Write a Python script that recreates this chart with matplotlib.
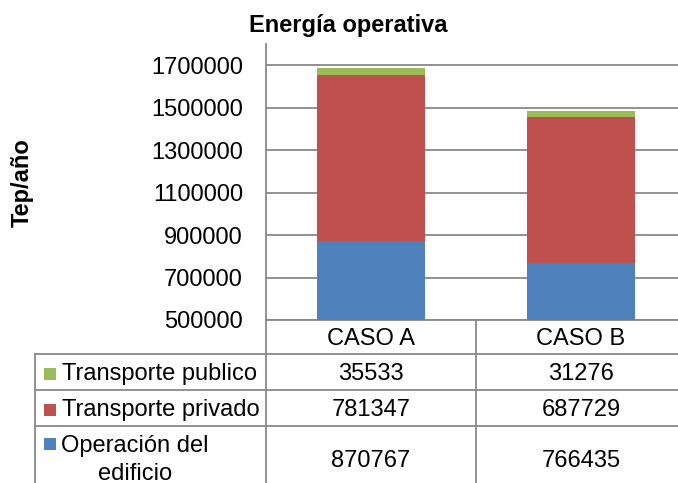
import matplotlib.pyplot as plt
from matplotlib.patches import Rectangle

plt.rcParams["font.family"] = ["Liberation Sans", "DejaVu Sans"]

# -----------------------------
# Data
# -----------------------------
categories = ["CASO A", "CASO B"]
series_names = ["Operación del\nedificio", "Transporte privado", "Transporte publico"]
operacion = [870767, 766435]
privado = [781347, 687729]
publico = [35533, 31276]
colors = ["#4F81BD", "#C0504D", "#9BBB59"]
y_ticks = [500000, 700000, 900000, 1100000, 1300000, 1500000, 1700000]

line_col = "#898989"
fs = 17

# figure 678x483 px, axes placed in pixel terms
W, H = 678, 483
fig = plt.figure(figsize=(W / 100, H / 100), dpi=100)
ax_l, ax_r, ax_t, ax_b = 266, 686, 44, 320
ax = fig.add_axes([ax_l / W, (H - ax_b) / H, (ax_r - ax_l) / W, (ax_b - ax_t) / H])
ax_w, ax_h = ax_r - ax_l, ax_b - ax_t

# -----------------------------
# Stacked bars
# -----------------------------
x = list(range(len(categories)))
bottom = [0, 0]
for vals, col in zip([operacion, privado, publico], colors):
    ax.bar(x, vals, width=0.515, bottom=bottom, color=col, linewidth=0, zorder=3)
    bottom = [b + v for b, v in zip(bottom, vals)]

ax.set_xlim(-0.5, 1.5)
ax.set_ylim(500000, 1800000)
ax.set_yticks(y_ticks)
ax.set_yticklabels([str(t) for t in y_ticks], fontsize=fs)
ax.set_xticks([])
ax.tick_params(axis="y", length=0, pad=16.5)
ax.yaxis.grid(True, color=line_col, linewidth=1.3, zorder=0)
ax.set_axisbelow(True)
for side in ["top", "right"]:
    ax.spines[side].set_visible(False)
for side in ["left", "bottom"]:
    ax.spines[side].set_color(line_col)
    ax.spines[side].set_linewidth(1.3)

fig.text(348 / W, (H - 32) / H, "Energía operativa", fontsize=fs,
         fontweight="bold", ha="center", va="baseline")
fig.text(22 / W, (H - 183) / H, "Tep/año", fontsize=fs, fontweight="bold",
         rotation=90, ha="center", va="center")

# -----------------------------
# Data table under the axes
# -----------------------------
def fy(p):  # pixel row (from top) -> axes fraction
    return (ax_b - p) / ax_h


def fx(p):  # pixel column -> axes fraction
    return (p - ax_l) / ax_w


row_edges = [354, 390, 426, 490]
tab_left = 35.5
kw = dict(transform=ax.transAxes, color=line_col, linewidth=1.3, clip_on=False)
for p in row_edges:
    ax.plot([fx(tab_left), 1.0], [fy(p), fy(p)], **kw)
ax.plot([fx(tab_left), fx(tab_left)], [fy(row_edges[0]), fy(row_edges[-1])], **kw)
ax.plot([0, 0], [0, fy(row_edges[-1])], **kw)
ax.plot([0.5, 0.5], [0, fy(row_edges[-1])], **kw)

xt = ax.get_xaxis_transform()
for xi, cat in zip(x, categories):
    ax.text(xi, fy(345), cat, transform=xt, fontsize=fs, ha="center", va="baseline")

# rows from top: publico, privado, operacion
rows = [
    (series_names[2], publico, colors[2], 380),
    (series_names[1], privado, colors[1], 416),
    (series_names[0], operacion, colors[0], 467),
]
for name, vals, col, base in rows:
    for xi, v in zip(x, vals):
        ax.text(xi, fy(base), str(v), transform=xt, fontsize=fs,
                ha="center", va="baseline")
    lines = name.split("\n")
    if len(lines) == 1:
        ax.text(fx(62), fy(base), name, transform=ax.transAxes, fontsize=fs,
                ha="left", va="baseline")
        key_c = base - 6.5
    else:
        for i, ln in enumerate(lines):
            ax.text(fx(135), fy(452 + 28 * i), ln, transform=ax.transAxes,
                    fontsize=fs, ha="center", va="baseline")
        key_c = 452 - 8.5
    ax.add_patch(Rectangle((fx(44), fy(key_c + 6)), 12 / ax_w, 12 / ax_h,
                           transform=ax.transAxes, facecolor=col,
                           edgecolor="none", clip_on=False))

fig.savefig("out.png", dpi=100)
